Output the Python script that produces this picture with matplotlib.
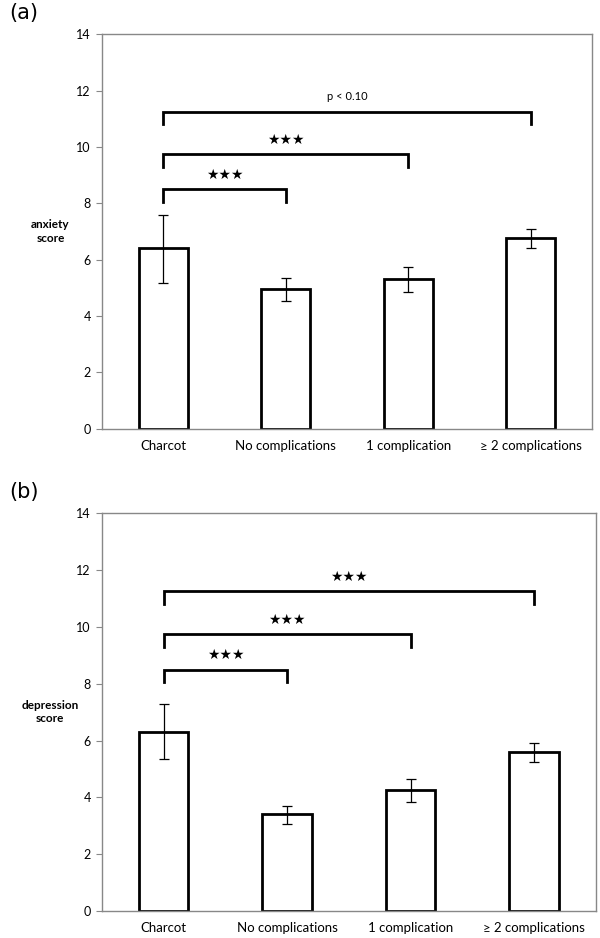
import numpy as np
import matplotlib
matplotlib.use('Agg')
import matplotlib.pyplot as plt

plt.rcParams['font.family'] = ['Lato', 'DejaVu Sans']

groups = ['Charcot', 'No complications', '1 complication', '\u2265 2 complications']

anxiety = [6.4, 4.95, 5.3, 6.75]
anxiety_lo = [5.18, 4.52, 4.85, 6.4]
anxiety_hi = [7.6, 5.35, 5.75, 7.1]
anxiety_labels = ['\u2605\u2605\u2605', '\u2605\u2605\u2605', 'p < 0.10']

depression = [6.3, 3.4, 4.25, 5.6]
depression_lo = [5.35, 3.05, 3.85, 5.25]
depression_hi = [7.3, 3.7, 4.65, 5.9]
depression_labels = ['\u2605\u2605\u2605', '\u2605\u2605\u2605', '\u2605\u2605\u2605']

bracket_y = [8.5, 9.75, 11.25]
yticks = [0, 2, 4, 6, 8, 10, 12, 14]

fig = plt.figure(figsize=(6, 9.38), dpi=100)


def panel(rect, vals, lo, hi, sig, ylab, tag):
    ax = fig.add_axes(rect)
    x = np.arange(len(groups))
    err = [np.array(vals) - np.array(lo), np.array(hi) - np.array(vals)]
    ax.bar(x, vals, width=0.4, color='white', edgecolor='black', linewidth=2, zorder=2)
    ax.errorbar(x, vals, yerr=err, fmt='none', ecolor='black', elinewidth=0.9,
                capsize=3.5, capthick=0.9, zorder=3)
    # significance brackets, all from Charcot
    for i, (yb, s) in enumerate(zip(bracket_y, sig)):
        x2 = i + 1
        ax.plot([0, 0, x2, x2], [yb - 0.45, yb, yb, yb - 0.45], color='black',
                lw=2, solid_joinstyle='miter', zorder=3)
        if s.startswith('p'):
            ax.text(x2 / 2, yb + 0.35, s, ha='center', va='bottom', fontsize=8)
        else:
            ax.text(x2 / 2, yb + 0.25, s, ha='center', va='bottom', fontsize=10,
                    family='DejaVu Sans')
    ax.set_xlim(-0.5, 3.5)
    ax.set_ylim(0, 14)
    ax.set_yticks(yticks)
    ax.set_xticks(x)
    ax.set_xticklabels(groups, fontsize=9.5)
    ax.tick_params(axis='x', length=0, pad=8)
    ax.tick_params(axis='y', length=4, width=0.8, color='#888888', labelsize=9, pad=4)
    for sp in ax.spines.values():
        sp.set_color('#888888')
        sp.set_linewidth(1.0)
    ax.text(-0.105, 0.5, ylab, transform=ax.transAxes, ha='center', va='center',
            fontsize=8.5, fontweight='bold', linespacing=1.3)
    fig.text(0.015, rect[1] + rect[3] + 0.012, tag, fontsize=15, ha='left', va='bottom',
             family='DejaVu Sans')
    return ax


panel([0.17, 0.543, 0.817, 0.4205], anxiety, anxiety_lo, anxiety_hi, anxiety_labels,
      'anxiety\nscore', '(a)')
panel([0.17, 0.0288, 0.823, 0.424], depression, depression_lo, depression_hi,
      depression_labels, 'depression\nscore', '(b)')

fig.savefig('out.png', dpi=100)
